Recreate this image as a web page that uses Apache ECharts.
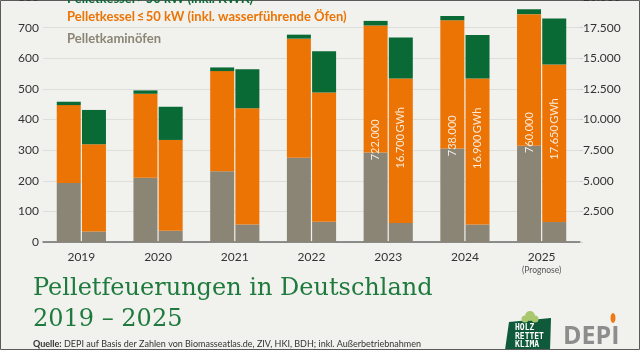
<!DOCTYPE html>
<html>
<head>
<meta charset="utf-8">
<script src="https://cdn.jsdelivr.net/npm/echarts@6/dist/echarts.min.js"></script>
<style>
  html, body { margin: 0; padding: 0; background: #f1f2ee; }
  #chart { width: 640px; height: 350px; }
</style>
</head>
<body>
<div id="chart"></div>
<script>
// Jahre und Hinweis unter der Achse
var years = ['2019', '2020', '2021', '2022', '2023', '2024', '2025'];
var yearNotes = ['', '', '', '', '', '', '(Prognose)'];

// Anzahl Anlagen (Tausend), linke Achse
var countKaminoefen = [193, 210, 231, 275, 292, 305, 314];
var countKleinKessel = [254, 274, 327, 389, 415, 419, 430];
var countGrossKessel = [11, 11, 12, 13, 15, 14, 16];

// Leistung in GWh, rechte Achse
var gwhKaminoefen = [860, 920, 1430, 1650, 1550, 1430, 1630];
var gwhKleinKessel = [7120, 7410, 9480, 10560, 11800, 11920, 12870];
var gwhGrossKessel = [2800, 2710, 3200, 3370, 3350, 3550, 3750];

// Summen, die in den Balken stehen (nur 2023-2025)
var countTotals = [null, null, null, null, 722000, 738000, 760000];
var gwhTotals = [null, null, null, null, 16700, 16900, 17650];

var leftTicks = { min: 0, max: 800, interval: 100 };
var rightTicks = { min: 0, max: 20000, interval: 2500 };

var nameGross = 'Pelletkessel\u2009>\u200950 kW (inkl. KWK)';
var nameKlein = 'Pelletkessel\u2009\u2264\u200950 kW (inkl. wasserführende Öfen)';
var nameKamin = 'Pelletkaminöfen';

var cGrey = '#8b8575', cOrange = '#ec7405', cGreen = '#0a6a36';
var font = 'Lato';

function fmt(n) {
  return String(n).replace(/\B(?=(\d{3})+(?!\d))/g, '.');
}

var myChart = echarts.init(document.getElementById('chart'));

function bar(name, data, axis, stack, color, extra) {
  var s = {
    name: name,
    type: 'bar',
    stack: stack,
    yAxisIndex: axis,
    barWidth: 24,
    barGap: '5%',
    itemStyle: { color: color },
    data: data
  };
  if (extra) s.label = extra;
  return s;
}

function totalLabel(pos, totals, unit) {
  return {
    show: true,
    position: pos,
    rotate: 90,
    align: 'center',
    verticalAlign: 'middle',
    color: 'rgba(255,255,255,0.85)',
    fontFamily: font,
    fontSize: 11,
    formatter: function (p) {
      var t = totals[p.dataIndex];
      return t == null ? '' : fmt(t) + unit;
    }
  };
}

var legendText = { fontSize: 13, fontWeight: 'bold', fontFamily: font, lineHeight: 17 };

myChart.setOption({
  backgroundColor: '#f1f2ee',
  animation: false,
  textStyle: { fontFamily: font },
  legend: [
    {
      orient: 'vertical', left: 62, top: -10, padding: 0,
      itemWidth: 0, itemHeight: 0, selectedMode: false,
      textStyle: legendText,
      data: [{ name: nameGross, textStyle: { color: cGreen } }]
    },
    {
      orient: 'vertical', left: 62, top: 8, padding: 0, itemGap: 5,
      itemWidth: 0, itemHeight: 0, selectedMode: false,
      textStyle: legendText,
      data: [
        { name: nameKlein, textStyle: { color: cOrange } },
        { name: nameKamin, textStyle: { color: cGrey } }
      ]
    }
  ],
  grid: { left: 43, right: 60, top: -3, bottom: 108, containLabel: false, outerBoundsMode: 'none' },
  xAxis: {
    type: 'category',
    data: years,
    axisLine: { lineStyle: { color: '#6e6e6e', width: 1.5 } },
    axisTick: { show: false },
    axisLabel: {
      interval: 0,
      margin: 8,
      color: '#333',
      fontSize: 12,
      lineHeight: 14,
      formatter: function (v, i) {
        return yearNotes[i] ? v + '\n{n|' + yearNotes[i] + '}' : v;
      },
      rich: { n: { fontSize: 8.5, color: '#555', lineHeight: 12 } }
    }
  },
  yAxis: [
    {
      type: 'value',
      min: leftTicks.min, max: leftTicks.max, interval: leftTicks.interval,
      axisLine: { show: false },
      axisTick: { show: false },
      axisLabel: { color: '#333', fontSize: 12, margin: 4, showMaxLabel: true },
      splitLine: { lineStyle: { color: '#dedfdb' } }
    },
    {
      type: 'value',
      min: rightTicks.min, max: rightTicks.max, interval: rightTicks.interval,
      axisLine: { show: false },
      axisTick: { show: true, length: 3, lineStyle: { color: '#cfcfcb' } },
      axisLabel: {
        color: '#333', fontSize: 12, margin: 3, showMaxLabel: true,
        formatter: function (v) { return v === 0 ? '' : fmt(v); }
      },
      splitLine: { show: false }
    }
  ],
  series: [
    bar(nameKamin, countKaminoefen, 0, 'count', cGrey),
    bar(nameKlein, countKleinKessel, 0, 'count', cOrange, totalLabel(['50%', '90%'], countTotals, '')),
    bar(nameGross, countGrossKessel, 0, 'count', cGreen),
    bar(nameKamin, gwhKaminoefen, 1, 'gwh', cGrey),
    bar(nameKlein, gwhKleinKessel, 1, 'gwh', cOrange, totalLabel(['50%', '41%'], gwhTotals, '\u2009GWh')),
    bar(nameGross, gwhGrossKessel, 1, 'gwh', cGreen)
  ],
  graphic: [
    {
      type: 'text', left: 33, top: 273,
      style: {
        text: 'Pelletfeuerungen in Deutschland\n2019 \u2013 2025',
        fill: '#1f7a3d',
        font: '24px "DejaVu Serif"',
        lineHeight: 31
      }
    },
    {
      type: 'text', left: 33, top: 340,
      style: {
        text: '{b|Quelle:} DEPI auf Basis der Zahlen von Biomasseatlas.de, ZIV, HKI, BDH; inkl. Außerbetriebnahmen',
        fill: '#333',
        fontFamily: font,
        fontSize: 9,
        rich: { b: { fontWeight: 'bold', fontFamily: font, fontSize: 9, fill: '#333' } }
      }
    },
    // Logo "Holz rettet Klima"
    {
      type: 'polygon',
      shape: { points: [[509, 322], [551, 318], [550, 350], [505, 350]] },
      style: { fill: '#0f5a3a' }
    },
    { type: 'circle', shape: { cx: 530, cy: 316, r: 5 }, style: { fill: '#a9c86e' } },
    { type: 'circle', shape: { cx: 525, cy: 319, r: 3.5 }, style: { fill: '#a9c86e' } },
    { type: 'circle', shape: { cx: 535, cy: 319, r: 3.5 }, style: { fill: '#a9c86e' } },
    {
      type: 'text', left: 515, top: 324,
      style: {
        text: 'HOLZ\nRETTET\nKLIMA', fill: '#fff', align: 'center',
        font: 'bold 8px "DejaVu Sans Mono"', lineHeight: 8.5
      },
      x: 14
    },
    // Logo DEPI
    {
      type: 'text', left: 563, top: 324,
      style: { text: 'DEPI', fill: '#8d8d8d', font: 'bold 25px "Open Sans"' }
    },
    {
      type: 'ellipse',
      shape: { cx: 613, cy: 318, rx: 2.5, ry: 5 },
      style: { fill: '#ee7a12' }
    },
    {
      type: 'rect',
      shape: { x: 0.5, y: 0.5, width: 639, height: 349 },
      style: { fill: null, stroke: '#5a5a5a', lineWidth: 1 },
      silent: true
    }
  ]
});
</script>
</body>
</html>
